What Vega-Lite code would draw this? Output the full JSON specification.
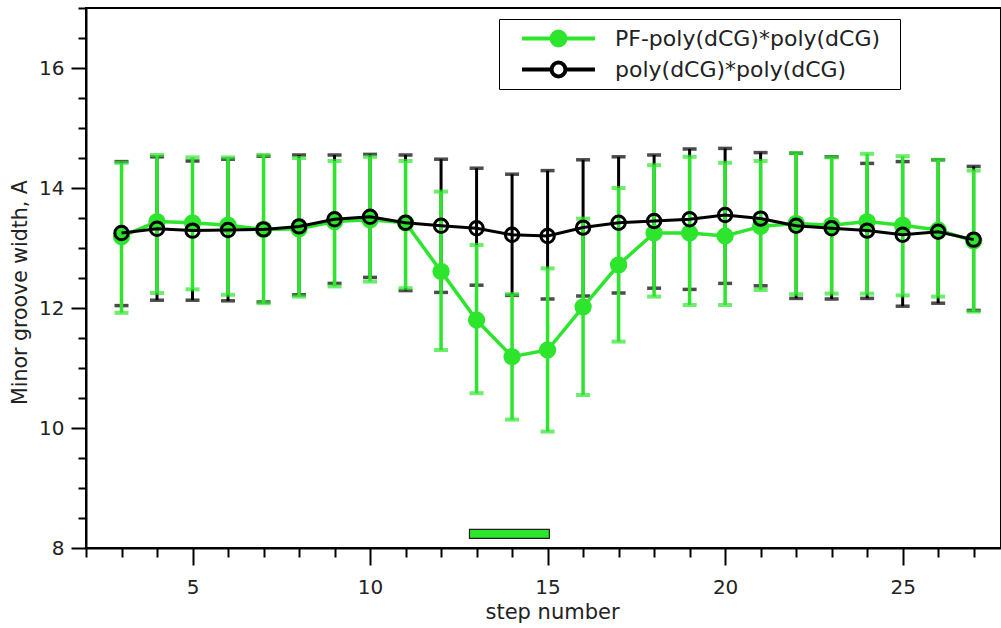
{
  "$schema": "https://vega.github.io/schema/vega-lite/v6.json",
  "width": 915,
  "height": 540,
  "autosize": {"type": "none"},
  "padding": {"left": 86, "top": 8, "right": 0, "bottom": 80},
  "background": "white",
  "config": {
    "font": "DejaVu Sans",
    "view": {"stroke": "black", "strokeWidth": 2},
    "axis": {"grid": false, "domainColor": "black", "tickColor": "black", "labelColor": "#222", "titleColor": "#222", "domainWidth": 2, "tickWidth": 2, "labelFont": "DejaVu Sans", "titleFont": "DejaVu Sans", "titleFontWeight": "normal"}
  },
  "datasets": {
    "pts": [
      {"step": 3, "series": "PF-poly(dCG)*poly(dCG)", "mean": 13.19, "lo": 11.92, "hi": 14.42},
      {"step": 4, "series": "PF-poly(dCG)*poly(dCG)", "mean": 13.44, "lo": 12.25, "hi": 14.55},
      {"step": 5, "series": "PF-poly(dCG)*poly(dCG)", "mean": 13.42, "lo": 12.31, "hi": 14.51},
      {"step": 6, "series": "PF-poly(dCG)*poly(dCG)", "mean": 13.38, "lo": 12.22, "hi": 14.51},
      {"step": 7, "series": "PF-poly(dCG)*poly(dCG)", "mean": 13.31, "lo": 12.08, "hi": 14.55},
      {"step": 8, "series": "PF-poly(dCG)*poly(dCG)", "mean": 13.32, "lo": 12.19, "hi": 14.5},
      {"step": 9, "series": "PF-poly(dCG)*poly(dCG)", "mean": 13.44, "lo": 12.36, "hi": 14.45},
      {"step": 10, "series": "PF-poly(dCG)*poly(dCG)", "mean": 13.47, "lo": 12.44, "hi": 14.52},
      {"step": 11, "series": "PF-poly(dCG)*poly(dCG)", "mean": 13.42, "lo": 12.33, "hi": 14.45},
      {"step": 12, "series": "PF-poly(dCG)*poly(dCG)", "mean": 12.61, "lo": 11.3, "hi": 13.94},
      {"step": 13, "series": "PF-poly(dCG)*poly(dCG)", "mean": 11.8, "lo": 10.58, "hi": 13.05},
      {"step": 14, "series": "PF-poly(dCG)*poly(dCG)", "mean": 11.19, "lo": 10.14, "hi": 12.23},
      {"step": 15, "series": "PF-poly(dCG)*poly(dCG)", "mean": 11.3, "lo": 9.94, "hi": 12.66},
      {"step": 16, "series": "PF-poly(dCG)*poly(dCG)", "mean": 12.02, "lo": 10.55, "hi": 13.49},
      {"step": 17, "series": "PF-poly(dCG)*poly(dCG)", "mean": 12.72, "lo": 11.44, "hi": 14.0},
      {"step": 18, "series": "PF-poly(dCG)*poly(dCG)", "mean": 13.25, "lo": 12.19, "hi": 14.38},
      {"step": 19, "series": "PF-poly(dCG)*poly(dCG)", "mean": 13.25, "lo": 12.05, "hi": 14.52},
      {"step": 20, "series": "PF-poly(dCG)*poly(dCG)", "mean": 13.2, "lo": 12.05, "hi": 14.42},
      {"step": 21, "series": "PF-poly(dCG)*poly(dCG)", "mean": 13.36, "lo": 12.3, "hi": 14.45},
      {"step": 22, "series": "PF-poly(dCG)*poly(dCG)", "mean": 13.41, "lo": 12.23, "hi": 14.58},
      {"step": 23, "series": "PF-poly(dCG)*poly(dCG)", "mean": 13.38, "lo": 12.24, "hi": 14.51},
      {"step": 24, "series": "PF-poly(dCG)*poly(dCG)", "mean": 13.44, "lo": 12.24, "hi": 14.57},
      {"step": 25, "series": "PF-poly(dCG)*poly(dCG)", "mean": 13.38, "lo": 12.21, "hi": 14.53},
      {"step": 26, "series": "PF-poly(dCG)*poly(dCG)", "mean": 13.3, "lo": 12.19, "hi": 14.47},
      {"step": 27, "series": "PF-poly(dCG)*poly(dCG)", "mean": 13.12, "lo": 11.94, "hi": 14.29},
      {"step": 3, "series": "poly(dCG)*poly(dCG)", "mean": 13.25, "lo": 12.04, "hi": 14.44},
      {"step": 4, "series": "poly(dCG)*poly(dCG)", "mean": 13.32, "lo": 12.13, "hi": 14.52},
      {"step": 5, "series": "poly(dCG)*poly(dCG)", "mean": 13.29, "lo": 12.13, "hi": 14.45},
      {"step": 6, "series": "poly(dCG)*poly(dCG)", "mean": 13.3, "lo": 12.12, "hi": 14.48},
      {"step": 7, "series": "poly(dCG)*poly(dCG)", "mean": 13.31, "lo": 12.1, "hi": 14.53},
      {"step": 8, "series": "poly(dCG)*poly(dCG)", "mean": 13.36, "lo": 12.22, "hi": 14.55},
      {"step": 9, "series": "poly(dCG)*poly(dCG)", "mean": 13.48, "lo": 12.41, "hi": 14.55},
      {"step": 10, "series": "poly(dCG)*poly(dCG)", "mean": 13.52, "lo": 12.51, "hi": 14.56},
      {"step": 11, "series": "poly(dCG)*poly(dCG)", "mean": 13.42, "lo": 12.29, "hi": 14.55},
      {"step": 12, "series": "poly(dCG)*poly(dCG)", "mean": 13.37, "lo": 12.26, "hi": 14.48},
      {"step": 13, "series": "poly(dCG)*poly(dCG)", "mean": 13.33, "lo": 12.38, "hi": 14.33},
      {"step": 14, "series": "poly(dCG)*poly(dCG)", "mean": 13.22, "lo": 12.21, "hi": 14.23},
      {"step": 15, "series": "poly(dCG)*poly(dCG)", "mean": 13.2, "lo": 12.15, "hi": 14.29},
      {"step": 16, "series": "poly(dCG)*poly(dCG)", "mean": 13.34, "lo": 12.2, "hi": 14.47},
      {"step": 17, "series": "poly(dCG)*poly(dCG)", "mean": 13.42, "lo": 12.25, "hi": 14.52},
      {"step": 18, "series": "poly(dCG)*poly(dCG)", "mean": 13.45, "lo": 12.33, "hi": 14.55},
      {"step": 19, "series": "poly(dCG)*poly(dCG)", "mean": 13.48, "lo": 12.31, "hi": 14.65},
      {"step": 20, "series": "poly(dCG)*poly(dCG)", "mean": 13.55, "lo": 12.41, "hi": 14.66},
      {"step": 21, "series": "poly(dCG)*poly(dCG)", "mean": 13.49, "lo": 12.37, "hi": 14.59},
      {"step": 22, "series": "poly(dCG)*poly(dCG)", "mean": 13.37, "lo": 12.16, "hi": 14.58},
      {"step": 23, "series": "poly(dCG)*poly(dCG)", "mean": 13.33, "lo": 12.15, "hi": 14.52},
      {"step": 24, "series": "poly(dCG)*poly(dCG)", "mean": 13.29, "lo": 12.16, "hi": 14.41},
      {"step": 25, "series": "poly(dCG)*poly(dCG)", "mean": 13.22, "lo": 12.03, "hi": 14.44},
      {"step": 26, "series": "poly(dCG)*poly(dCG)", "mean": 13.27, "lo": 12.08, "hi": 14.47},
      {"step": 27, "series": "poly(dCG)*poly(dCG)", "mean": 13.14, "lo": 11.96, "hi": 14.36}
    ],
    "bar": [{"start": 12.8, "end": 15.05, "bottom": 8.16, "top": 8.31}]
  },
  "data": {"name": "pts"},
  "layer": [
    {
      "transform": [{"filter": "datum.series === 'poly(dCG)*poly(dCG)'"}],
      "mark": {"type": "errorbar", "color": "black", "thickness": 3, "ticks": {"size": 14, "thickness": 3.5, "color": "black"}},
      "encoding": {
        "x": {"field": "step", "type": "quantitative", "scale": {"domain": [2, 27.77], "nice": false, "zero": false},
          "axis": {"orient": "bottom", "values": [5, 10, 15, 20, 25], "tickSize": 17, "labelFontSize": 20, "labelPadding": 12, "title": "step number", "titleFontSize": 21, "titlePadding": 4, "titleX": 466}},
        "y": {"field": "lo", "type": "quantitative", "scale": {"domain": [8, 17], "nice": false, "zero": false},
          "axis": {"orient": "left", "values": [8, 10, 12, 14, 16], "tickSize": 15, "labelFontSize": 20, "labelPadding": 7, "title": "Minor groove width, A", "titleFontSize": 20.5, "titleX": -66, "titleY": 284, "titleBaseline": "middle"}},
        "y2": {"field": "hi"}
      }
    },
    {
      "transform": [{"filter": "datum.series === 'PF-poly(dCG)*poly(dCG)'"}],
      "mark": {"type": "errorbar", "color": "#2ee52e", "thickness": 3.5, "ticks": {"size": 14, "thickness": 4, "color": "#2ee52e"}},
      "encoding": {
        "x": {"field": "step", "type": "quantitative", "axis": null},
        "y": {"field": "lo", "type": "quantitative", "axis": null},
        "y2": {"field": "hi"}
      }
    },
    {
      "transform": [{"filter": "datum.series === 'PF-poly(dCG)*poly(dCG)'"}],
      "mark": {"type": "line", "strokeWidth": 3.5},
      "encoding": {
        "x": {"field": "step", "type": "quantitative", "axis": null},
        "y": {"field": "mean", "type": "quantitative", "axis": null},
        "color": {"field": "series", "type": "nominal",
          "scale": {"domain": ["PF-poly(dCG)*poly(dCG)", "poly(dCG)*poly(dCG)"], "range": ["#2ee52e", "black"]},
          "legend": {
            "title": "\u00a0", "titleOrient": "right", "titlePadding": 14, "titleFontSize": 8, "titleColor": "white",
            "orient": "none", "legendX": 413, "legendY": 11,
            "direction": "vertical",
            "strokeColor": "black", "fillColor": "white", "padding": 6,
            "symbolType": "M-1,0H-0.19M0.19,0H1M0.19,0A0.19,0.19,0,1,1,-0.19,0A0.19,0.19,0,1,1,0.19,0Z",
            "symbolSize": 5329, "symbolStrokeWidth": 4, "symbolOffset": 15,
            "clipHeight": 27, "rowPadding": 4,
            "labelFontSize": 22, "labelOffset": 18, "labelColor": "#222", "labelFont": "DejaVu Sans", "labelLimit": 500,
            "encode": {"symbols": {"update": {
              "fill": {"signal": "datum.value === 'poly(dCG)*poly(dCG)' ? 'white' : '#2ee52e'"},
              "stroke": {"signal": "datum.value === 'poly(dCG)*poly(dCG)' ? 'black' : '#2ee52e'"},
              "opacity": {"value": 1}
            }}}
          }}
      }
    },
    {
      "transform": [{"filter": "datum.series === 'PF-poly(dCG)*poly(dCG)'"}],
      "mark": {"type": "point", "shape": "circle", "filled": true, "size": 300, "color": "#2ee52e", "opacity": 1},
      "encoding": {
        "x": {"field": "step", "type": "quantitative", "axis": null},
        "y": {"field": "mean", "type": "quantitative", "axis": null}
      }
    },
    {
      "transform": [{"filter": "datum.series === 'poly(dCG)*poly(dCG)'"}],
      "mark": {"type": "line", "strokeWidth": 3},
      "encoding": {
        "x": {"field": "step", "type": "quantitative", "axis": null},
        "y": {"field": "mean", "type": "quantitative", "axis": null},
        "color": {"field": "series", "type": "nominal"}
      }
    },
    {
      "transform": [{"filter": "datum.series === 'poly(dCG)*poly(dCG)'"}],
      "mark": {"type": "point", "shape": "circle", "filled": false, "size": 180, "stroke": "black", "strokeWidth": 3, "opacity": 1},
      "encoding": {
        "x": {"field": "step", "type": "quantitative", "axis": null},
        "y": {"field": "mean", "type": "quantitative", "axis": null}
      }
    },
    {
      "data": {"values": [{"v": 2}, {"v": 3}, {"v": 4}, {"v": 6}, {"v": 7}, {"v": 8}, {"v": 9}, {"v": 11}, {"v": 12}, {"v": 13}, {"v": 14}, {"v": 16}, {"v": 17}, {"v": 18}, {"v": 19}, {"v": 21}, {"v": 22}, {"v": 23}, {"v": 24}, {"v": 26}, {"v": 27}]},
      "mark": {"type": "rule", "opacity": 0},
      "encoding": {
        "x": {"field": "v", "type": "quantitative", "axis": {"orient": "bottom", "values": [2, 3, 4, 6, 7, 8, 9, 11, 12, 13, 14, 16, 17, 18, 19, 21, 22, 23, 24, 26, 27], "tickSize": 9, "labels": false, "domain": false, "title": null}}
      }
    },
    {
      "data": {"values": [{"w": 8.5}, {"w": 9}, {"w": 9.5}, {"w": 10.5}, {"w": 11}, {"w": 11.5}, {"w": 12.5}, {"w": 13}, {"w": 13.5}, {"w": 14.5}, {"w": 15}, {"w": 15.5}, {"w": 16.5}, {"w": 17}]},
      "mark": {"type": "rule", "opacity": 0},
      "encoding": {
        "y": {"field": "w", "type": "quantitative", "axis": {"orient": "left", "values": [8.5, 9, 9.5, 10.5, 11, 11.5, 12.5, 13, 13.5, 14.5, 15, 15.5, 16.5, 17], "tickSize": 8, "labels": false, "domain": false, "title": null}}
      }
    },
    {
      "data": {"name": "bar"},
      "mark": {"type": "rect", "fill": "#2ee52e", "stroke": "#222", "strokeWidth": 1.2},
      "encoding": {
        "x": {"field": "start", "type": "quantitative", "axis": null},
        "x2": {"field": "end"},
        "y": {"field": "bottom", "type": "quantitative", "axis": null},
        "y2": {"field": "top"}
      }
    }
  ],
  "resolve": {"axis": {"x": "independent", "y": "independent"}}
}
